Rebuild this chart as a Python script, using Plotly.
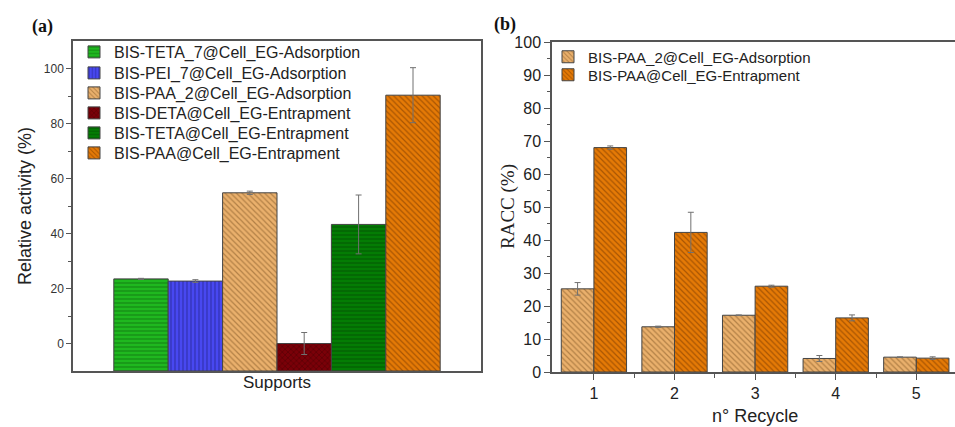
import plotly.graph_objects as go

# ---------------- data ----------------
a_names = [
    "BIS-TETA_7@Cell_EG-Adsorption",
    "BIS-PEI_7@Cell_EG-Adsorption",
    "BIS-PAA_2@Cell_EG-Adsorption",
    "BIS-DETA@Cell_EG-Entrapment",
    "BIS-TETA@Cell_EG-Entrapment",
    "BIS-PAA@Cell_EG-Entrapment",
]
a_values = [23.5, 22.7, 54.8, 0.0, 43.3, 90.3]
a_errors = [0.2, 0.5, 0.6, 4.0, 10.7, 10.0]
a_axis_min = -10

b_recycle = [1, 2, 3, 4, 5]
b_names = ["BIS-PAA_2@Cell_EG-Adsorption", "BIS-PAA@Cell_EG-Entrapment"]
b_adsorption = [25.2, 13.7, 17.2, 4.1, 4.5]
b_adsorption_err = [1.9, 0.2, 0.1, 0.9, 0.1]
b_entrapment = [68.0, 42.3, 26.0, 16.4, 4.2]
b_entrapment_err = [0.5, 6.1, 0.3, 0.9, 0.4]

# ---------------- styles ----------------
a_colors = ["#1fb81f", "#4848f0", "#eab06c", "#7a0008", "#047c04", "#e57a06"]
a_fg = ["#0a5a0a", "#1a1a70", "#7a5020", "#300000", "#023a02", "#6a3000"]
a_shapes = ["-", "|", "\\", "x", "-", "\\"]

SANS = "Liberation Sans, Arial, sans-serif"
SERIF = "Liberation Serif, Times New Roman, serif"
AX = "#555555"
H = 427
W = 955

fig = go.Figure()

legend_layout = {}
a_row_centers = [52, 73, 93, 113, 133, 153]
for i, name in enumerate(a_names):
    lg = "legend" if i == 0 else f"legend{i + 1}"
    fig.add_trace(go.Bar(
        x=[name], y=[a_values[i] - a_axis_min], base=a_axis_min, name=name,
        width=1.0, offset=-0.5, showlegend=True,
        marker=dict(color=a_colors[i], line=dict(color="#444444", width=1),
                    pattern=dict(shape=a_shapes[i], fgcolor=a_fg[i], size=4, solidity=0.3)),
        error_y=dict(type="data", array=[a_errors[i]], color="#707070", thickness=1, width=3),
        xaxis="x", yaxis="y", legend=lg,
    ))
    legend_layout[lg] = dict(x=74/W, y=1-a_row_centers[i]/H,
                             xanchor="left", yanchor="middle",
                             bgcolor="rgba(0,0,0,0)", font=dict(size=16, family=SANS, color="#222"),
                             itemwidth=30, visible=True)

b_row_centers = [57, 75]
fig.add_trace(go.Bar(
    x=b_recycle, y=b_adsorption, name=b_names[0], width=0.405, offset=-0.405, showlegend=True,
    marker=dict(color=a_colors[2], line=dict(color="#444444", width=1),
                pattern=dict(shape="\\", fgcolor=a_fg[2], size=4, solidity=0.3)),
    error_y=dict(type="data", array=b_adsorption_err, color="#707070", thickness=1, width=3),
    xaxis="x2", yaxis="y2", legend="legend7",
))
fig.add_trace(go.Bar(
    x=b_recycle, y=b_entrapment, name=b_names[1], width=0.405, offset=0.0, showlegend=True,
    marker=dict(color=a_colors[5], line=dict(color="#444444", width=1),
                pattern=dict(shape="\\", fgcolor=a_fg[5], size=4, solidity=0.3)),
    error_y=dict(type="data", array=b_entrapment_err, color="#707070", thickness=1, width=3),
    xaxis="x2", yaxis="y2", legend="legend8",
))
for k, lg in enumerate(["legend7", "legend8"]):
    legend_layout[lg] = dict(x=548/W, y=1-b_row_centers[k]/H,
                             xanchor="left", yanchor="middle",
                             bgcolor="rgba(0,0,0,0)", font=dict(size=15, family=SANS, color="#222"),
                             itemwidth=30, visible=True)

fig.update_layout(
    width=W, height=H,
    margin=dict(l=0, r=0, t=0, b=0, autoexpand=False),
    paper_bgcolor="white", plot_bgcolor="white",
    barmode="group", showlegend=True,
    font=dict(family=SANS, color="#222222"),
    xaxis=dict(domain=[73/W, 481/W], type="category", categoryarray=a_names,
               range=[-1.25, 6.25], showticklabels=False, ticks="", automargin=False,
               showline=True, linecolor=AX, linewidth=1.5, mirror=True,
               showgrid=False, zeroline=False, anchor="y"),
    yaxis=dict(domain=[1-371/H, 1-41/H], range=[-10, 110], automargin=False,
               tickvals=[0, 20, 40, 60, 80, 100], ticks="outside", ticklen=5,
               tickcolor=AX, tickfont=dict(size=12, family=SANS, color="#333"),
               minor=dict(tickvals=[10, 30, 50, 70, 90], ticks="outside", ticklen=3, tickcolor=AX),
               showline=True, linecolor=AX, linewidth=1.5, mirror=True,
               showgrid=False, zeroline=False, anchor="x"),
    xaxis2=dict(domain=[552/W, 1.0], range=[0.48, 5.48], automargin=False,
                tickvals=b_recycle, ticks="outside", ticklen=6, tickcolor=AX,
                tickfont=dict(size=16, family=SANS, color="#222"),
                minor=dict(tickvals=[1.5, 2.5, 3.5, 4.5], ticks="outside", ticklen=4, tickcolor=AX),
                showline=True, linecolor=AX, linewidth=1.5, mirror=True,
                showgrid=False, zeroline=False, anchor="y2"),
    yaxis2=dict(domain=[1-372/H, 1-42/H], range=[0, 100], dtick=10, automargin=False,
                ticks="outside", ticklen=6, tickcolor=AX,
                tickfont=dict(size=16, family=SANS, color="#222"),
                minor=dict(dtick=5, ticks="outside", ticklen=3, tickcolor=AX),
                showline=True, linecolor=AX, linewidth=1.5, mirror=False,
                showgrid=False, zeroline=False, anchor="x2"),
    annotations=[
        dict(text="<b>(a)</b>", x=30/W, y=1-27/H, xref="paper", yref="paper",
             xanchor="left", yanchor="middle", showarrow=False,
             font=dict(family=SERIF, size=18, color="#111")),
        dict(text="<b>(b)</b>", x=492/W, y=1-25/H, xref="paper", yref="paper",
             xanchor="left", yanchor="middle", showarrow=False,
             font=dict(family=SERIF, size=18, color="#111")),
        dict(text="Relative activity (%)", x=25/W, y=1-206/H, xref="paper", yref="paper",
             xanchor="center", yanchor="middle", textangle=-90, showarrow=False,
             font=dict(family=SANS, size=18, color="#222")),
        dict(text="Supports", x=277/W, y=1-382/H, xref="paper", yref="paper",
             xanchor="center", yanchor="middle", showarrow=False,
             font=dict(family=SANS, size=17, color="#222")),
        dict(text="RACC (%)", x=508/W, y=1-206/H, xref="paper", yref="paper",
             xanchor="center", yanchor="middle", textangle=-90, showarrow=False,
             font=dict(family=SERIF, size=19, color="#222")),
        dict(text="n° Recycle", x=755/W, y=1-416/H, xref="paper", yref="paper",
             xanchor="center", yanchor="middle", showarrow=False,
             font=dict(family=SANS, size=18, color="#222")),
    ],
    **legend_layout,
)

fig.write_html(
    "out.html",
    config={"displayModeBar": False},
    post_script="document.body.style.margin='0';document.body.style.overflow='hidden';",
)
